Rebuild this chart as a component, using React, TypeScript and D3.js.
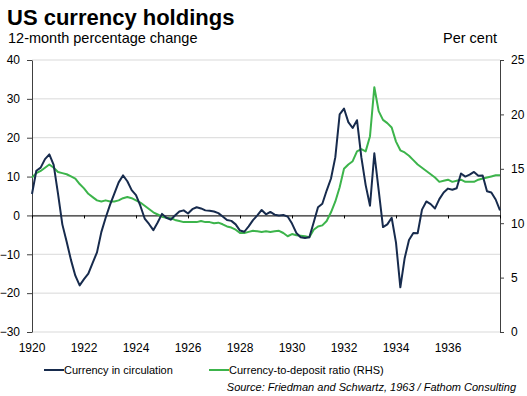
import React, { useEffect, useRef } from 'react'
import * as d3 from 'd3'

const startYear = 1920
const stepYears = 1 / 6

// 12-month % change in currency in circulation (LHS)
const currency = [
  5.5, 11.5, 12.3, 14.5, 15.7, 13.0, 5.6, -2.3, -6.8, -11.5,
  -15.5, -18.0, -16.4, -15.0, -12.2, -9.5, -4.3, -0.6, 2.7, 5.6,
  8.5, 10.3, 8.8, 6.5, 5.2, 2.5, -0.8, -2.2, -3.8, -1.8,
  0.4, -0.6, -1.1, 0.0, 1.0, 1.3, 0.5, 1.6, 2.1, 1.8,
  1.3, 1.2, 1.0, 0.6, -0.3, -1.2, -1.4, -2.3, -3.9, -4.2,
  -2.8, -1.2, 0.0, 1.4, 0.3, 0.9, 0.2, 0.0, 0.1, -0.3,
  -2.1, -4.5, -5.6, -5.8, -5.6, -1.8, 2.1, 3.0, 6.4, 9.5,
  15.0, 26.0, 27.5, 24.0, 22.5, 24.5, 15.0, 7.8, 2.5, 16.0,
  6.5, -3.0, -2.3, -0.6, -7.0, -18.5, -11.0, -6.3, -4.5, -4.6,
  1.5, 3.6, 2.9, 1.8, 4.2, 5.9, 6.9, 6.6, 7.0, 10.8,
  10.0, 10.5, 11.2, 10.2, 10.3, 6.2, 5.9, 4.1, 1.3,
]

// Currency-to-deposit ratio, per cent (RHS)
const ratio = [
  14.2, 14.6, 14.8, 15.1, 15.4, 15.1, 14.7, 14.6, 14.5, 14.3,
  14.1, 13.6, 13.2, 12.7, 12.4, 12.1, 12.0, 12.1, 12.0, 12.0,
  12.1, 12.3, 12.4, 12.3, 12.1, 11.9, 11.6, 11.3, 11.0, 10.8,
  10.6, 10.5, 10.45, 10.3, 10.2, 10.1, 10.1, 10.1, 10.1, 10.2,
  10.1, 10.1, 10.0, 10.05, 9.9, 9.7, 9.6, 9.4, 9.1, 9.1,
  9.2, 9.3, 9.25, 9.2, 9.25, 9.2, 9.25, 9.3, 9.1, 8.8,
  9.0, 8.9, 8.85, 8.8, 8.7, 9.4, 9.7, 9.8, 10.2, 11.0,
  12.0, 13.3, 15.0, 15.4, 15.7, 16.6, 16.8, 16.6, 18.0, 22.5,
  20.3, 19.5, 19.2, 18.8, 17.5, 16.7, 16.5, 16.2, 15.8, 15.4,
  15.1, 14.8, 14.5, 14.2, 13.8, 13.9, 14.0, 13.8, 13.9, 14.0,
  13.8, 13.8, 13.8, 14.0, 14.1, 14.2, 14.3, 14.4, 14.4,
]

const leftTicks = [40, 30, 20, 10, 0, -10, -20, -30]
const rightTicks = [0, 5, 10, 15, 20, 25]
const yearTicks = [1920, 1922, 1924, 1926, 1928, 1930, 1932, 1934, 1936]

const navy = '#172b4d'
const green = '#3cb44b'
const font = '"Liberation Sans", Arial, sans-serif'

export default function App() {
  const ref = useRef<SVGSVGElement>(null)

  useEffect(() => {
    const svg = d3.select(ref.current)
    svg.selectAll('*').remove()

    const plot = { left: 32, right: 500, top: 60, bottom: 332 }

    const x = d3.scaleLinear().domain([1920, 1938]).range([plot.left, plot.right])
    const yL = d3.scaleLinear().domain([-30, 40]).range([plot.bottom, plot.top])
    const yR = d3.scaleLinear().domain([0, 25]).range([plot.bottom, plot.top])

    // Titles
    svg.append('text').attr('x', 7).attr('y', 25)
      .style('font', `bold 22px ${font}`).attr('fill', '#000')
      .text('US currency holdings')
    svg.append('text').attr('x', 8).attr('y', 43)
      .style('font', `14.5px ${font}`).attr('fill', '#000')
      .text('12-month percentage change')
    svg.append('text').attr('x', 497).attr('y', 43).attr('text-anchor', 'end')
      .style('font', `14.5px ${font}`).attr('fill', '#000')
      .text('Per cent')

    // Gridlines
    svg.append('g').selectAll('line').data(leftTicks).join('line')
      .attr('x1', plot.left).attr('x2', plot.right)
      .attr('y1', d => yL(d)).attr('y2', d => yL(d))
      .attr('stroke', '#d9d9d9').attr('stroke-width', 1)

    // Left axis
    const gl = svg.append('g').attr('transform', `translate(${plot.left},0)`)
      .call(d3.axisLeft(yL).tickValues(leftTicks).tickSize(5).tickSizeOuter(0).tickPadding(7))
    gl.selectAll('text').style('font', `12px ${font}`).attr('fill', '#000')
    gl.selectAll('path, line').attr('stroke', '#404040')

    // Right axis
    const gr = svg.append('g').attr('transform', `translate(${plot.right},0)`)
      .call(d3.axisRight(yR).tickValues(rightTicks).tickSize(4).tickSizeOuter(0).tickPadding(7))
    gr.selectAll('text').style('font', `12px ${font}`).attr('fill', '#000')
    gr.selectAll('path, line').attr('stroke', '#404040')

    // Zero line with year ticks
    const gx = svg.append('g').attr('transform', `translate(0,${yL(0)})`)
      .call(d3.axisBottom(x).tickValues(yearTicks.concat([1938])).tickSize(3).tickSizeOuter(0).tickFormat(() => ''))
    gx.selectAll('path, line').attr('stroke', '#000')

    // Year labels below the plot
    svg.append('g').selectAll('text').data(yearTicks).join('text')
      .attr('x', d => x(d)).attr('y', 352).attr('text-anchor', 'middle')
      .style('font', `12px ${font}`).attr('fill', '#000')
      .text(d => d)

    const date = (i: number) => startYear + i * stepYears

    const lineL = d3.line<number>().x((d, i) => x(date(i))).y(d => yL(d))
    const lineR = d3.line<number>().x((d, i) => x(date(i))).y(d => yR(d))

    svg.append('path').datum(ratio).attr('d', lineR)
      .attr('fill', 'none').attr('stroke', green).attr('stroke-width', 2)
      .attr('stroke-linejoin', 'round')
    svg.append('path').datum(currency).attr('d', lineL)
      .attr('fill', 'none').attr('stroke', navy).attr('stroke-width', 2)
      .attr('stroke-linejoin', 'round')

    // Legend
    const legend = [
      { label: 'Currency in circulation', color: navy, x: 44 },
      { label: 'Currency-to-deposit ratio (RHS)', color: green, x: 209 },
    ]
    const lg = svg.append('g').selectAll('g').data(legend).join('g')
      .attr('transform', d => `translate(${d.x},370)`)
    lg.append('line').attr('x1', 0).attr('x2', 20)
      .attr('stroke', d => d.color).attr('stroke-width', 2)
    lg.append('text').attr('x', 20).attr('y', 4)
      .style('font', `11px ${font}`).attr('fill', '#000')
      .text(d => d.label)

    svg.append('text').attr('x', 516).attr('y', 391).attr('text-anchor', 'end')
      .style('font', `italic 11px ${font}`).attr('fill', '#000')
      .text('Source: Friedman and Schwartz, 1963 / Fathom Consulting')
  }, [])

  return (
    <svg ref={ref} width={527} height={396}
      style={{ position: 'absolute', left: 0, top: 0, background: '#fff' }} />
  )
}
